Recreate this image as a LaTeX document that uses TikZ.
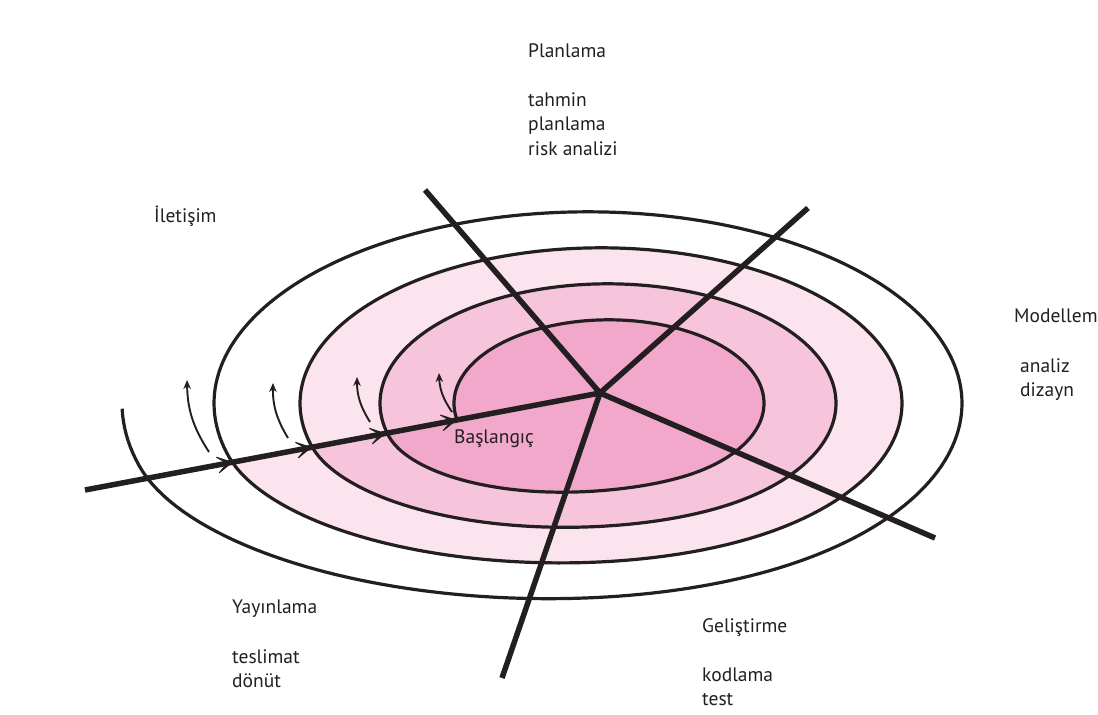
\documentclass[tikz,border=0pt]{standalone}
\usepackage{fontspec}
\setmainfont{PT Sans}
\usetikzlibrary{arrows.meta,decorations.markings}
\definecolor{ink}{RGB}{35,31,32}
\definecolor{pinkdeep}{RGB}{242,168,202}
\definecolor{pinkmid}{RGB}{246,197,220}
\definecolor{pinkpale}{RGB}{251,228,238}

\begin{document}
\begin{tikzpicture}[x=1pt,y=-1pt,
  % the spiral runs along nested ellipses (ring index r) and steps
  % out to the next ring in the lower-left quarter of every turn
  declare function={
    easestep(\u)=\u*\u*\u*(4-3*\u);
    ringof(\t)=floor(\t+0.04)+easestep(min(max((\t+0.04-floor(\t+0.04)-0.70)/0.295,0),1));
    cxr(\r)=609+2*\r-3*\r*\r;
    ar(\r)=155+73*\r;
    br(\r)=83.5+36*\r;
    sx(\t)=cxr(ringof(\t))+ar(ringof(\t))*cos(180-360*\t);
    sy(\t)=403.3-br(ringof(\t))*sin(180-360*\t);
  },
  spiral/.style={line width=3.2pt, draw=ink, line join=round},
  spoke/.style={line width=5.5pt, draw=ink},
  nudge/.style={line width=1.9pt, draw=ink, -{Stealth[length=9pt,width=7.5pt]}},
  lbl/.style={anchor=base west, inner sep=0pt, font=\fontsize{19.5}{23.5}\selectfont, text=ink},
  flow/.tip={Stealth[length=20pt,width=22pt,inset=13.5pt,line width=1pt]},
]
\useasboundingbox (0,0) rectangle (1098,715);
\fill[white] (0,0) rectangle (1098,715);

% shaded bands, outer to inner
\fill[pinkpale] plot[domain=1.955:2.95, samples=300, variable=\t] ({sx(\t)},{sy(\t)}) -- cycle;
\fill[pinkmid] plot[domain=0.963:1.955, samples=300, variable=\t] ({sx(\t)},{sy(\t)}) -- cycle;
\fill[pinkdeep] plot[domain=-0.032:0.963, samples=300, variable=\t] ({sx(\t)},{sy(\t)}) -- cycle;

% the spiral itself
\draw[spiral] plot[domain=-0.032:4, samples=900, variable=\t] ({sx(\t)},{sy(\t)});

% spokes from the hub
\coordinate (hub) at (600,393);
\coordinate (spokeN) at (425,190);
\coordinate (spokeNE) at (808,208);
\coordinate (spokeSE) at (935,538);
\coordinate (spokeS) at (502,678);
\coordinate (axisEnd) at (85,490);
\draw[spoke] (hub) -- (spokeN);
\draw[spoke] (hub) -- (spokeNE);
\draw[spoke] (hub) -- (spokeSE);
\draw[spoke] (hub) -- (spokeS);
\draw[spoke, postaction={decorate}, decoration={markings,
    mark=at position 150.6pt with {\arrow{flow}},
    mark=at position 231pt with {\arrow{flow}},
    mark=at position 306.3pt with {\arrow{flow}},
    mark=at position 378.5pt with {\arrow{flow}}}]
  (axisEnd) -- (hub);

% small arrows showing the turn direction
\draw[nudge] (209,452) to[bend left=16] (187,380);
\draw[nudge] (288,438) to[bend left=16] (273,383);
\draw[nudge] (370,422) to[bend left=16] (357,377);
\draw[nudge] (452,412) to[bend left=16] (439,373);

% labels
\node[lbl] (plan) at (528,57) {Planlama};
\node[lbl] (plan1) at (528,106) {tahmin};
\node[lbl] (plan2) at (528,130) {planlama};
\node[lbl] (plan3) at (528,155) {risk analizi};
\node[lbl] (iletisim) at (154,222) {İletişim};
\node[lbl] (model) at (1014,322) {Modellem};
\node[lbl] (model1) at (1020,372) {analiz};
\node[lbl] (model2) at (1020,396) {dizayn};
\node[lbl] (yayin) at (232,613) {Yayınlama};
\node[lbl] (yayin1) at (232,663) {teslimat};
\node[lbl] (yayin2) at (232,687) {dönüt};
\node[lbl] (gelis) at (702,632) {Geliştirme};
\node[lbl] (gelis1) at (702,681) {kodlama};
\node[lbl] (gelis2) at (702,705) {test};
\node[lbl] (start) at (454,443) {Başlangıç};
\end{tikzpicture}
\end{document}
